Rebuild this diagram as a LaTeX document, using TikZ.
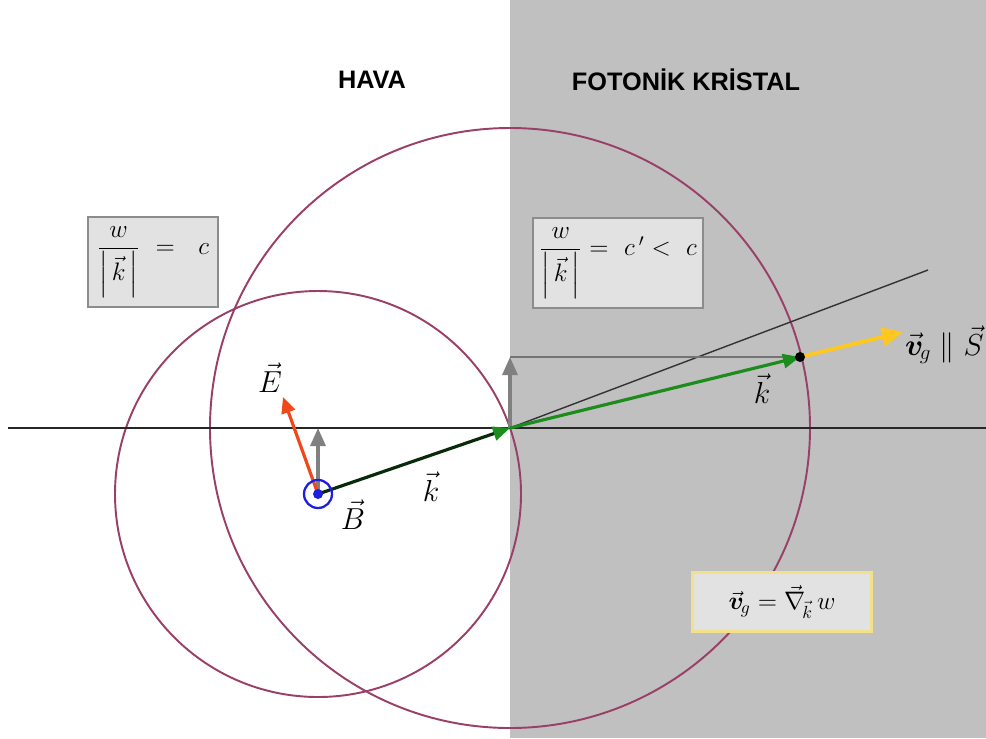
\documentclass[tikz,border=0pt]{standalone}
\usepackage{amsmath}
\usepackage{fontspec}
\setsansfont{Liberation Sans}
\usepackage{tikz}
\usetikzlibrary{arrows.meta, positioning, calc}
\definecolor{kgray}{HTML}{C0C0C0}
\definecolor{kbox}{HTML}{E2E2E2}
\definecolor{kring}{HTML}{9A3F68}
\definecolor{kred}{HTML}{F0481A}
\definecolor{kgreen}{HTML}{1C8C1C}
\definecolor{kyellow}{HTML}{FFC820}
\definecolor{kblue}{HTML}{1E1EE0}
\definecolor{kedge}{HTML}{F2E08A}

\begin{document}
\begin{tikzpicture}[x=0.02cm, y=-0.02cm,
  ring/.style={kring, line width=1.1pt},
  vec/.style={line width=1.8pt},
  vlabel/.style={font=\LARGE, inner sep=1pt},
  eqbox/.style={fill=kbox, draw=gray!90, line width=0.8pt, minimum width=#1, minimum height=1.8cm, font=\Large},
  heading/.style={font=\sffamily\bfseries\Large}]
\useasboundingbox (0,0) rectangle (986,738);
\fill[white] (0,0) rectangle (986,738);
\fill[kgray] (510,0) rectangle (986,738);
% points
\coordinate (b) at (318,494);
\coordinate (o) at (510,428);
\coordinate (s) at (800,357);
\coordinate (up) at (510,357);
\coordinate (bup) at (318,428);
\coordinate (etip) at (283,397);
\coordinate (vtip) at (903,332);
\coordinate (lend) at (928,270);
\coordinate (hl) at (8,428);
\coordinate (hr) at (986,428);
% headings
\node[heading] (air) at (372,80) {HAVA};
\node[heading] (crystal) at (686,80) {FOTON\.IK KR\.ISTAL};
% circles
\draw[ring] (b) circle[radius=203];
\draw[ring] (o) circle[radius=300];
% lines
\draw[black!85, line width=1.5pt] (hl) -- (hr);
\draw[black!80, line width=0.8pt] (o) -- (lend);
% boxes
\node[eqbox=2.6cm] (eqair) at (153,262) {$\dfrac{w}{\left|\,\vec{k}\,\right|} \ = \ \ c$\hspace{0.2cm}};
\node[eqbox=3.4cm] (eqcry) at (618,263) {$\dfrac{w}{\left|\,\vec{k}\,\right|} = \ c\,' < \ c$};
\node[eqbox=3.58cm, draw=kedge, line width=1.5pt, minimum height=1.18cm] (eqgrad) at (782,602) {$\vec{\boldsymbol{v}}_{\!g} = \vec{\nabla}_{\!\vec{k}}\, w$};
% vectors
\draw[vec, gray, -{Triangle[length=0.36cm, width=0.3cm]}] (b) -- (bup);
\draw[vec, gray, -{Triangle[length=0.36cm, width=0.3cm]}] (o) -- (up);
\draw[vec, gray!90!black, line width=1.4pt] (up) -- (s);
\draw[vec, kred, -{Triangle[length=0.32cm, width=0.28cm]}] (b) -- (etip);
\draw[vec, kgreen!30!black, -{Triangle[length=0.34cm, width=0.28cm, color=kgreen]}] (b) -- (o);
\draw[vec, kgreen, -{Triangle[length=0.34cm, width=0.28cm]}] (o) -- (s);
\draw[vec, kyellow, line width=2.2pt, -{Triangle[length=0.42cm, width=0.38cm]}] (s) -- (vtip);
\fill[black] (s) circle[radius=5];
\draw[kblue, line width=1.3pt] (b) circle[radius=14];
\fill[kblue] (b) circle[radius=5];
% labels
\node[vlabel] (elab) at (270,378) {$\vec{E}$};
\node[vlabel] (blab) at (353,515) {$\vec{B}$};
\node[vlabel] (klab) at (431,487) {$\vec{k}$};
\node[vlabel] (kcry) at (762,389) {$\vec{k}$};
\node[vlabel, anchor=west] (vglab) at (903,345) {$\vec{\boldsymbol{v}}_{\!g} \parallel \vec{S}$};
\end{tikzpicture}
\end{document}
